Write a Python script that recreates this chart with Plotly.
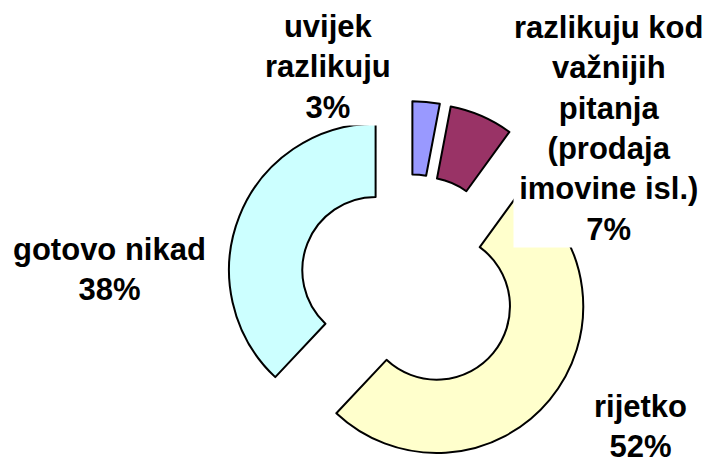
import plotly.graph_objects as go

labels = ["uvijek razlikuju", "razlikuju kod važnijih pitanja (prodaja imovine isl.)", "rijetko", "gotovo nikad"]
values = [3, 7, 52, 38]
colors = ["#9999FF", "#993366", "#FFFFCC", "#CCFFFF"]
label_texts = [
    "uvijek<br>razlikuju<br>3%",
    "razlikuju kod<br>važnijih<br>pitanja<br>(prodaja<br>imovine isl.)<br>7%",
    "rijetko<br>52%",
    "gotovo nikad<br>38%",
]
# label anchor positions in pixels (x from left, y from top)
label_px = [(328, 67), (608, 128), (640, 426), (109, 269)]

W, H = 708, 466
T = 101
PH = H - T


def to_paper(px, py):
    return px / W, (H - py) / PH


fig = go.Figure(
    go.Pie(
        labels=labels,
        values=values,
        sort=False,
        direction="clockwise",
        rotation=0,
        hole=0.5,
        pull=[0.245] * 4,
        marker=dict(colors=colors, line=dict(color="black", width=2)),
        textinfo="none",
        hoverinfo="none",
        domain=dict(x=[(409 - 190) / W, (409 + 190) / W], y=[0, 1]),
    )
)

for txt, (px, py) in zip(label_texts, label_px):
    xp, yp = to_paper(px, py)
    fig.add_annotation(
        x=xp, y=yp, xref="paper", yref="paper",
        text=txt, showarrow=False,
        xanchor="center", yanchor="middle",
        align="center",
        bgcolor="white", borderpad=0,
        font=dict(family="Liberation Sans, Arial", size=31, color="black", weight="bold"),
    )

fig.update_layout(
    width=W, height=H,
    margin=dict(l=0, r=0, t=T, b=0),
    showlegend=False,
    paper_bgcolor="white",
    plot_bgcolor="white",
)

fig.write_html(
    "out.html",
    config={"displayModeBar": False},
    post_script="document.body.style.margin='0';document.body.style.overflow='hidden';",
)
